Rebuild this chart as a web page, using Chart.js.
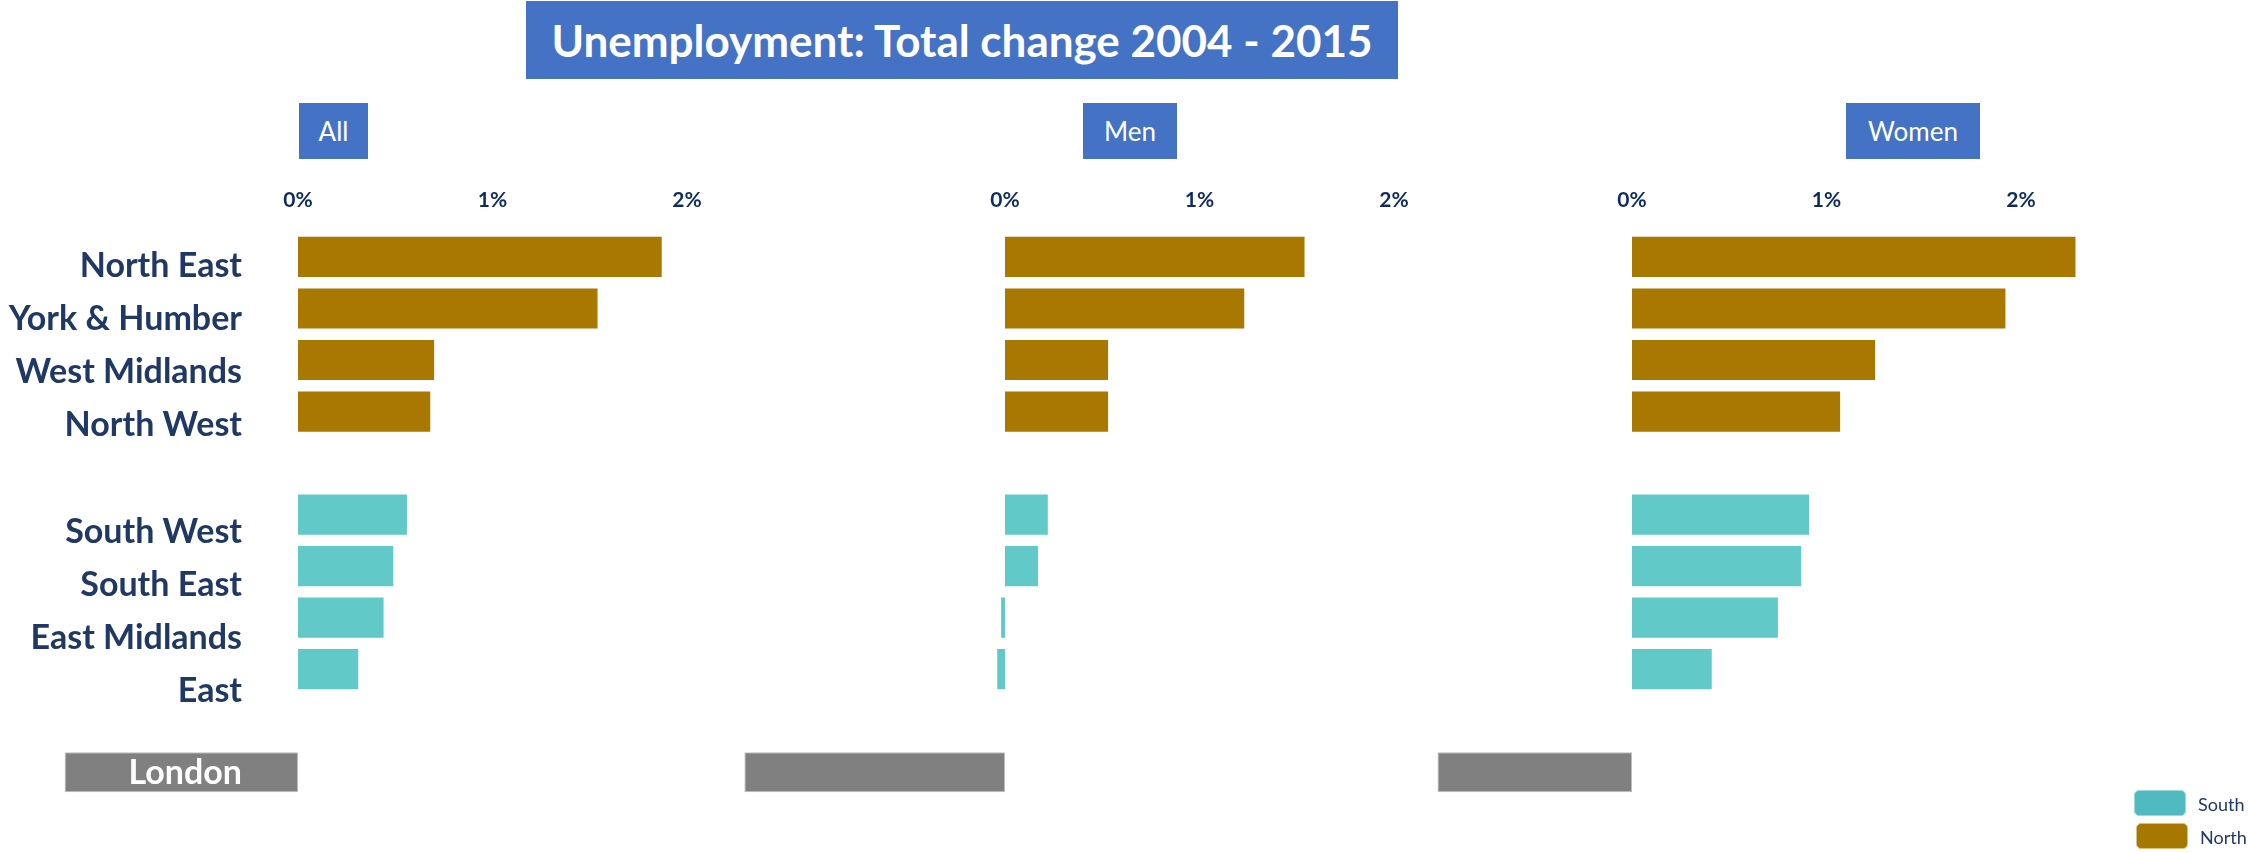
<!DOCTYPE html>
<html>
<head>
<meta charset="utf-8">
<title>Unemployment: Total change 2004 - 2015</title>
<script src="https://cdn.jsdelivr.net/npm/chart.js@4.4.1/dist/chart.umd.min.js"></script>
<style>
  html, body { margin: 0; padding: 0; background: #ffffff; }
  #stage { position: relative; width: 2248px; height: 853px; overflow: hidden; background: #ffffff; font-family: Lato, "Open Sans", sans-serif; }
  .box { position: absolute; background: #4472C4; color: #ffffff; text-align: center; }
  #title { left: 526px; top: 1px; width: 872px; height: 78px; line-height: 78px; font-size: 44px; font-weight: 700; }
  .panel-head { top: 103px; height: 56px; line-height: 56px; font-size: 26px; font-weight: 400; }
  .panel { position: absolute; top: 170px; height: 628px; }
  .key-swatch { position: absolute; width: 52px; height: 26px; border-radius: 5px; box-sizing: border-box; }
  .key-text { position: absolute; font-size: 18px; color: #203864; line-height: 18px; }
</style>
</head>
<body>
<div id="stage">
  <div id="title" class="box">Unemployment: Total change 2004 - 2015</div>
  <div class="box panel-head" style="left:299px;width:69px;">All</div>
  <div class="box panel-head" style="left:1083px;width:94px;">Men</div>
  <div class="box panel-head" style="left:1846px;width:134px;">Women</div>

  <div class="panel" style="left:0px;width:740px;"><canvas id="chartAll"></canvas></div>
  <div class="panel" style="left:740px;width:690px;"><canvas id="chartMen"></canvas></div>
  <div class="panel" style="left:1430px;width:818px;"><canvas id="chartWomen"></canvas></div>

  <div class="key-swatch" style="left:2134px;top:790px;background:#4FBBC0;border:1px solid #9ad9dc;"></div>
  <div class="key-text" style="left:2198px;top:795px;">South</div>
  <div class="key-swatch" style="left:2136px;top:823px;background:#A67800;border:1px solid #d9c07f;"></div>
  <div class="key-text" style="left:2200px;top:828px;">North</div>
</div>

<script>
// Regions, top to bottom; empty entries are the spacer rows between groups.
const regions = ['North East', 'York & Humber', 'West Midlands', 'North West', '',
                 'South West', 'South East', 'East Midlands', 'East', '', 'London'];
const regionGroup = ['North', 'North', 'North', 'North', null,
                     'South', 'South', 'South', 'South', null, 'London'];

// Change in unemployment rate 2004-2015, percentage points
const allChange   = [1.87, 1.54, 0.70, 0.68, null, 0.56, 0.49, 0.44, 0.31, null, -1.20];
const menChange   = [1.54, 1.23, 0.53, 0.53, null, 0.22, 0.17, -0.02, -0.04, null, -1.34];
const womenChange = [2.28, 1.92, 1.25, 1.07, null, 0.91, 0.87, 0.75, 0.41, null, -1.00];

const tickValues = [0, 1, 2];

const groupColours = { North: '#A87800', South: '#62C9C9', London: '#808080' };

// Horizontal placement of each panel: canvas left edge, width, the x of the 0% line, px per 1%
const pxPerPoint = 194.5;
const panels = [
  { id: 'chartAll',   data: allChange,   left: 0,    width: 740, zero: 298,  labels: true },
  { id: 'chartMen',   data: menChange,   left: 740,  width: 690, zero: 1005, labels: false },
  { id: 'chartWomen', data: womenChange, left: 1430, width: 818, zero: 1632, labels: false }
];

// Region names written at the left of the first panel, London inside its own bar
const regionLabels = {
  id: 'regionLabels',
  afterDatasetsDraw(chart, args, opts) {
    if (!opts.show) return;
    const { ctx, scales: { x, y } } = chart;
    const right = x.getPixelForValue(0) - 56;
    const size = 34;
    ctx.save();
    ctx.font = '700 ' + size + 'px Lato, "Open Sans", sans-serif';
    ctx.textAlign = 'right';
    ctx.textBaseline = 'alphabetic';
    regions.forEach((name, i) => {
      if (!name) return;
      const isLondon = regionGroup[i] === 'London';
      const sag = isLondon ? 0 : 8 + 1.55 * i;
      const capMid = y.getPixelForValue(i) + sag;
      ctx.fillStyle = isLondon ? '#ffffff' : '#203864';
      ctx.fillText(name, right, capMid + size * 0.36);
    });
    ctx.restore();
  }
};

function buildPanel(p) {
  const min = (p.left - p.zero) / pxPerPoint;
  const max = (p.left + p.width - p.zero) / pxPerPoint;
  return new Chart(document.getElementById(p.id), {
    type: 'bar',
    data: {
      labels: regions,
      datasets: [{
        data: p.data,
        backgroundColor: ctx => groupColours[regionGroup[ctx.dataIndex]] || 'transparent',
        borderColor: ctx => regionGroup[ctx.dataIndex] === 'London' ? '#BDBDBD' : 'transparent',
        borderWidth: ctx => regionGroup[ctx.dataIndex] === 'London' ? 1 : 0,
        borderSkipped: false,
        barPercentage: 0.78,
        categoryPercentage: 1.0
      }]
    },
    options: {
      indexAxis: 'y',
      responsive: true,
      maintainAspectRatio: false,
      animation: false,
      layout: { padding: 0, autoPadding: false },
      plugins: {
        legend: { display: false },
        tooltip: { enabled: false },
        regionLabels: { show: p.labels }
      },
      scales: {
        x: {
          type: 'linear',
          position: 'top',
          min: min,
          max: max,
          afterBuildTicks: scale => { scale.ticks = tickValues.map(v => ({ value: v })); },
          grid: { display: false, drawTicks: false },
          border: { display: false },
          ticks: {
            padding: 18,
            color: '#0F2B5F',
            font: { family: 'Lato', weight: '700', size: 21 },
            callback: v => v + '%'
          }
        },
        y: {
          type: 'category',
          display: false,
          offset: true,
          grid: { display: false }
        }
      }
    },
    plugins: [regionLabels]
  });
}

function start() { panels.forEach(buildPanel); }
if (document.fonts && document.fonts.load) {
  Promise.all([
    document.fonts.load('700 34px Lato'),
    document.fonts.load('400 26px Lato')
  ]).then(start, start);
} else {
  start();
}
</script>
</body>
</html>
